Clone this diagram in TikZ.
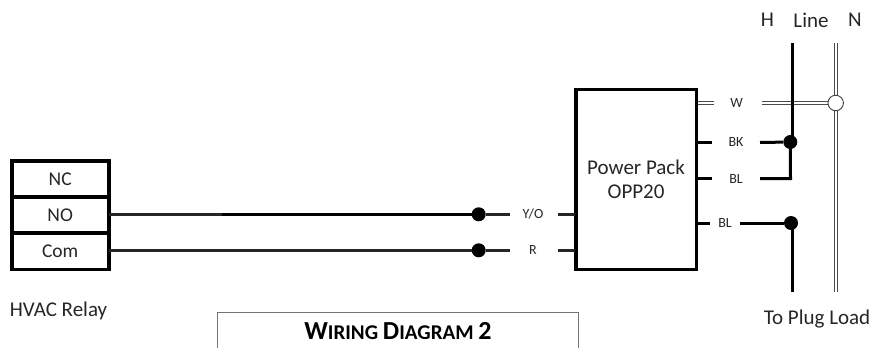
\documentclass[tikz,border=0pt]{standalone}
\usepackage{fontspec}
\setmainfont{Carlito}
\begin{document}
\begin{tikzpicture}[x=1pt,y=-1pt,
  every node/.style={text=black!85},
  box/.style={draw=black,line width=3.6pt,inner sep=0pt,outer sep=0pt,anchor=north west,font=\fontsize{19.5pt}{22pt}\selectfont},
  wire/.style={line width=3pt,draw=black},
  thinwire/.style={line width=2.4pt,draw=black!85},
  dline/.style={draw=black!70,line width=0.9pt},
  dot/.style={circle,fill=black,draw=none,minimum size=14pt,inner sep=0pt},
  odot/.style={circle,fill=white,draw=black!75,line width=0.9pt,minimum size=15.5pt,inner sep=0pt},
  tag/.style={font=\fontsize{14pt}{16pt}\selectfont,inner sep=0pt},
  lbl/.style={font=\fontsize{21pt}{24pt}\selectfont,inner sep=0pt}]
\useasboundingbox (0,0) rectangle (875,348);
% relay
\node[box,minimum width=97pt,minimum height=36.2pt] (nc) at (11.7,160.7) {NC};
\node[box,minimum width=97pt,minimum height=36.2pt] (no) at (11.7,196.9) {NO};
\node[box,minimum width=97pt,minimum height=36.2pt] (com) at (11.7,233.1) {Com};
\node[lbl] (hvac) at (58.5,311) {HVAC Relay};
% power pack
\node[box,minimum width=120.5pt,minimum height=180pt,align=center,font=\fontsize{21pt}{24.5pt}\selectfont] (pp) at (575.8,89.3) {Power Pack\\OPP20};
% tags
\node[tag] (yo) at (533,214.3) {Y/O};
\node[tag] (r) at (533,250.3) {R};
\node[tag] (w) at (736.5,103) {W};
\node[tag] (bk) at (736,142.5) {BK};
\node[tag] (bl1) at (736,178.7) {BL};
\node[tag] (bl2) at (725,223) {BL};
% dots
\node[dot] (d1) at (478.7,214.3) {};
\node[dot] (d2) at (478.7,250.3) {};
\node[dot] (d3) at (790.3,142) {};
\node[dot] (d4) at (791,223) {};
% free ends
\coordinate (pyo) at (575,214.3);
\coordinate (pr) at (575,250.3);
\coordinate (ppw) at (698,103);
\coordinate (ppbk) at (698,142.5);
\coordinate (ppbl1) at (698,178.7);
\coordinate (ppbl2) at (698,223);
\coordinate (htop) at (792,43);
\coordinate (hbot) at (792,292);
\coordinate (ntop) at (835.7,43);
\coordinate (nbot) at (835.7,292);
\coordinate (thick) at (222,214.3);
\coordinate (wa) at (714,103);
\coordinate (wb) at (762,103);
% neutral and W
\foreach \s in {-1.5,1.5}{
  \draw[dline] ([xshift=\s pt]ntop) -- ([xshift=\s pt]nbot);
  \draw[dline] ([yshift=\s pt]ppw) -- ([yshift=\s pt]wa);
  \draw[dline] ([yshift=\s pt]wb) -- ([yshift=\s pt]835.7,103);
}
\node[odot] (n) at (835.7,103) {};
% hvac wires
\draw[thinwire] (no.east |- d1) -- (thick);
\draw[wire] (thick) -- (d1);
\draw[thinwire] (com.east |- d2) -- (d2);
\draw[thinwire] (d1) -- (509.5,214.3);
\draw[thinwire] (d2) -- (509.5,250.3);
\draw[thinwire] (558,214.3) -- (pyo);
\draw[thinwire] (558,250.3) -- (pr);
% line / load
\draw[wire] (htop) -- (htop |- d3);
\draw[wire] (ppbk) -- (712,142.5);
\draw[wire] (760,142.5) -- (d3);
\draw[wire] (ppbl1) -- (712,178.7);
\draw[wire,line join=miter] (760,178.7) -- (790.5,178.7) -- (d3);
\draw[wire] (ppbl2) -- (710,223);
\draw[wire] (740,223) -- (d4);
\draw[wire] (hbot |- d4) -- (hbot);
% labels
\node[lbl] (hl) at (767.5,20) {H};
\node[lbl] (ll) at (811,20) {Line};
\node[lbl] (nl) at (855,20) {N};
\node[lbl] (load) at (817,319.5) {To Plug Load};
% title
\coordinate (tl) at (217.7,348);
\coordinate (tr) at (578,348);
\draw[draw=black!55,line width=1pt] (tl) -- (217.7,312.7) -- (578,312.7) -- (tr);
\node[inner sep=0pt,text=black,font=\bfseries\fontsize{26pt}{28pt}\selectfont] (title) at (398,331) {W\fontsize{21pt}{28pt}\selectfont IRING \fontsize{26pt}{28pt}\selectfont D\fontsize{21pt}{28pt}\selectfont IAGRAM \fontsize{26pt}{28pt}\selectfont 2};
\end{tikzpicture}
\end{document}
